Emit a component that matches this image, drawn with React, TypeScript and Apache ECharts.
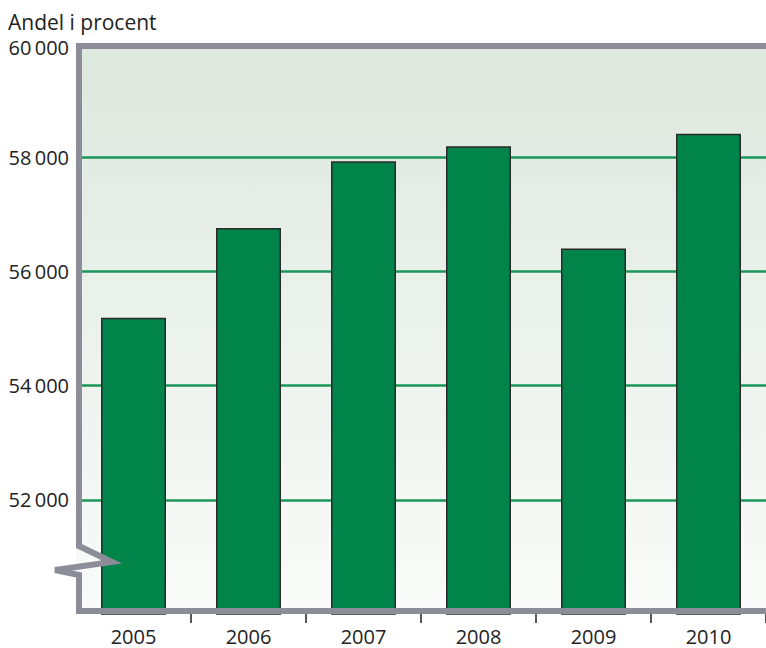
import React, { useEffect, useRef } from "react";
import * as echarts from "echarts";

const categories = ["2005", "2006", "2007", "2008", "2009", "2010"];
const values = [55190, 56760, 57930, 58190, 56400, 58410];
const yTicks = [50000, 52000, 54000, 56000, 58000, 60000];
const yTitle = "Andel i procent";

const FONT = "'Open Sans', 'Noto Sans', sans-serif";

export default function App() {
  const ref = useRef<HTMLDivElement>(null);
  useEffect(() => {
    if (!ref.current) return;
    const chart = echarts.init(ref.current, null, { renderer: "svg" });
    const gridLeft = 76;
    const gridTop = 43;
    const gridH = 571;
    const gridW = 698;
    const bottomY = gridTop + gridH - 3;
    const topY = gridTop + 3;
    const lx = gridLeft + 3;
    const border = "#8d8c99";
    const yMax = yTicks[yTicks.length - 1];
    const fmt = (v: number) => {
      const s = String(v);
      return s.slice(0, s.length - 3) + "\u2009" + s.slice(s.length - 3);
    };
    chart.setOption({
      animation: false,
      grid: {
        left: gridLeft,
        top: gridTop,
        width: gridW,
        height: gridH,
        show: true,
        borderWidth: 0,
        backgroundColor: new echarts.graphic.LinearGradient(0, 0, 0, 1, [
          { offset: 0, color: "#dde8de" },
          { offset: 1, color: "#fafbfa" },
        ]),
      },
      xAxis: {
        type: "category",
        data: categories,
        axisLine: { show: false },
        axisTick: {
          show: true,
          length: 9,
          interval: (i: number) => i !== 0,
          lineStyle: { color: "#222", width: 1.5 },
        },
        axisLabel: { color: "#222", fontSize: 20, fontFamily: FONT, margin: 12 },
      },
      yAxis: {
        type: "value",
        min: yTicks[0],
        max: yMax,
        interval: yTicks[1] - yTicks[0],
        axisLine: { show: false },
        axisTick: { show: false },
        axisLabel: {
          color: "#222",
          fontSize: 20,
          fontFamily: FONT,
          margin: 7,
          showMinLabel: false,
          formatter: (v: number) => (v === yMax ? "{top|" + fmt(v) + "}" : fmt(v)),
          rich: {
            top: {
              color: "#222",
              fontSize: 20,
              fontFamily: FONT,
              padding: [8, 0, 0, 0],
            },
          },
        },
        splitLine: {
          show: true,
          showMinLine: false,
          showMaxLine: false,
          lineStyle: { color: "#1a9659", width: 2.5 },
        },
      },
      series: [
        {
          type: "bar",
          data: values,
          barWidth: 65,
          itemStyle: { color: "#00844a", borderColor: "#2a2a2a", borderWidth: 1.5 },
          z: 3,
        },
      ],
      graphic: [
        {
          type: "text",
          left: 8,
          top: 11,
          style: { text: yTitle, fontSize: 21, fontFamily: FONT, fill: "#222" },
        },
        {
          type: "polyline",
          z: 100,
          shape: {
            points: [
              [770, topY],
              [lx, topY],
              [lx, 546],
              [112, 562],
              [55, 570],
              [lx, 575],
              [lx, bottomY],
              [770, bottomY],
            ],
          },
          style: { stroke: border, lineWidth: 6, fill: null, lineJoin: "miter" },
        },
      ],
    });
    return () => chart.dispose();
  }, []);
  return (
    <div
      ref={ref}
      style={{ position: "absolute", left: 0, top: 0, width: 766, height: 648 }}
    />
  );
}
